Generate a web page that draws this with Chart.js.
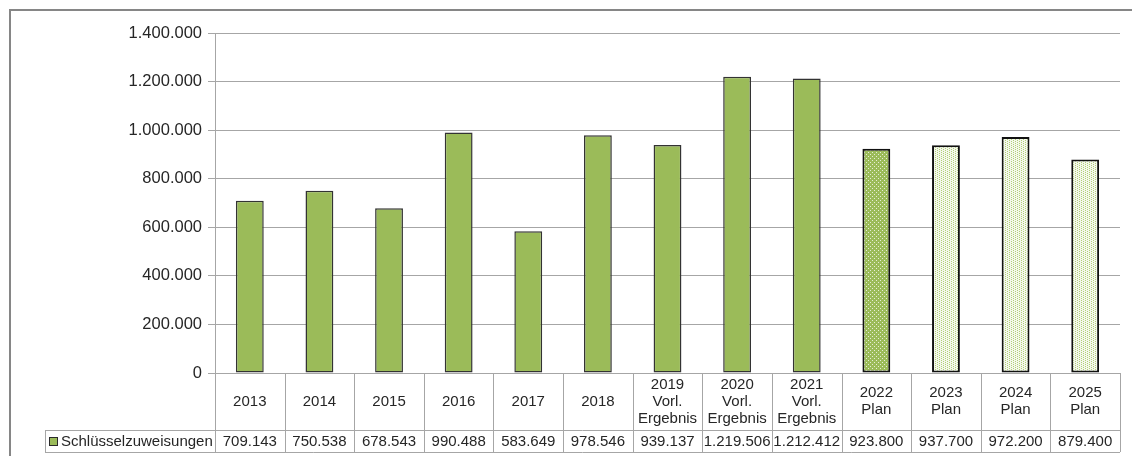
<!DOCTYPE html>
<html>
<head>
<meta charset="utf-8">
<script src="https://cdn.jsdelivr.net/npm/chart.js@4"></script>
<style>
  body { margin: 0; background: #fff; }
  #wrap { width: 1132px; height: 456px; }
</style>
</head>
<body>
<div id="wrap"><canvas id="chart" width="1132" height="456"></canvas></div>
<script>
const categories = [
  ['2013'], ['2014'], ['2015'], ['2016'], ['2017'], ['2018'],
  ['2019', 'Vorl.', 'Ergebnis'], ['2020', 'Vorl.', 'Ergebnis'], ['2021', 'Vorl.', 'Ergebnis'],
  ['2022', 'Plan'], ['2023', 'Plan'], ['2024', 'Plan'], ['2025', 'Plan']
];
const seriesName = 'Schlüsselzuweisungen';
const values = [709143, 750538, 678543, 990488, 583649, 978546, 939137, 1219506, 1212412, 923800, 937700, 972200, 879400];
const fillKind = ['solid', 'solid', 'solid', 'solid', 'solid', 'solid', 'solid', 'solid', 'solid', 'dense', 'light', 'light', 'light'];
const yTicks = [0, 200000, 400000, 600000, 800000, 1000000, 1200000, 1400000];

const GREEN = '#9bbb59';
const FAMILY = '"Liberation Sans", Arial, sans-serif';
const FONT = '15px ' + FAMILY;
const TEXT = '#262626';
const LINE = '#a6a6a6';

function fmt(n) {
  return String(n).replace(/\B(?=(\d{3})+(?!\d))/g, '.');
}

function makePattern(kind) {
  const c = document.createElement('canvas');
  c.width = 4; c.height = 4;
  const g = c.getContext('2d');
  if (kind === 'dense') {
    g.fillStyle = GREEN; g.fillRect(0, 0, 4, 4);
    g.fillStyle = '#e6eed6';
    g.fillRect(0, 0, 1, 1); g.fillRect(2, 2, 1, 1);
  } else {
    // pale base with vertical dotted green columns
    g.fillStyle = '#f4f8ec'; g.fillRect(0, 0, 4, 4);
    g.fillStyle = '#b3cf78';
    g.fillRect(1, 0, 1, 1); g.fillRect(1, 2, 1, 1);
    g.fillRect(3, 1, 1, 1); g.fillRect(3, 3, 1, 1);
  }
  return g.createPattern(c, 'repeat');
}

const fills = fillKind.map(k => k === 'solid' ? GREEN : makePattern(k));
const borders = fillKind.map(k => k === 'solid' ? '#333333' : '#111111');
const borderWidths = fillKind.map(k => k === 'solid' ? 1.5 : 2);

const frameAndTable = {
  id: 'frameAndTable',
  afterDraw(chart) {
    const ctx = chart.ctx;
    const area = chart.chartArea;
    const x = chart.scales.x;
    const n = categories.length;
    const step = area.width / n;
    const headTop = area.bottom, headBottom = 430, rowBottom = 452, legendLeft = 45;

    ctx.save();
    // outer frame
    ctx.strokeStyle = '#868686';
    ctx.lineWidth = 2;
    ctx.strokeRect(10, 10, 1140, 460);

    // table lines
    ctx.strokeStyle = LINE;
    ctx.lineWidth = 1;
    ctx.beginPath();
    ctx.moveTo(legendLeft, headBottom + 0.5); ctx.lineTo(area.right, headBottom + 0.5);
    ctx.moveTo(legendLeft, rowBottom + 0.5); ctx.lineTo(area.right, rowBottom + 0.5);
    ctx.moveTo(legendLeft + 0.5, headBottom); ctx.lineTo(legendLeft + 0.5, rowBottom);
    for (let i = 0; i <= n; i++) {
      const px = Math.round(x.getPixelForValue(i) - step / 2) + 0.5;
      ctx.moveTo(px, headTop); ctx.lineTo(px, rowBottom);
    }
    ctx.stroke();

    // header labels and values
    ctx.fillStyle = TEXT;
    ctx.font = FONT;
    ctx.textAlign = 'center';
    ctx.textBaseline = 'middle';
    const lh = 17;
    const headMid = (headTop + headBottom) / 2;
    categories.forEach((lines, i) => {
      const cx = x.getPixelForValue(i);
      const y0 = headMid - (lines.length - 1) * lh / 2;
      lines.forEach((t, j) => ctx.fillText(t, cx, y0 + j * lh));
      ctx.fillText(fmt(values[i]), cx, (headBottom + rowBottom) / 2 + 1);
    });

    // legend key
    ctx.fillStyle = GREEN;
    ctx.fillRect(49.5, 437.5, 8, 8);
    ctx.strokeStyle = '#2b2b2b';
    ctx.strokeRect(49.5, 437.5, 8, 8);
    ctx.fillStyle = TEXT;
    ctx.textAlign = 'left';
    ctx.fillText(seriesName, 61, (headBottom + rowBottom) / 2 + 1);
    ctx.restore();
  }
};

new Chart(document.getElementById('chart'), {
  type: 'bar',
  data: {
    labels: categories.map(l => l.join(' ')),
    datasets: [{
      label: seriesName,
      data: values,
      backgroundColor: fills,
      borderColor: borders,
      borderWidth: borderWidths,
      borderSkipped: false,
      barPercentage: 0.4,
      categoryPercentage: 1.0
    }]
  },
  options: {
    responsive: false,
    animation: false,
    layout: { padding: { left: 0, top: 33, right: 12, bottom: 83 } },
    plugins: {
      legend: { display: false },
      tooltip: { enabled: false }
    },
    scales: {
      x: { display: false, offset: true },
      y: {
        min: 0,
        max: 1400000,
        afterFit(scale) { scale.width = 215; },
        afterBuildTicks(scale) { scale.ticks = yTicks.map(v => ({ value: v })); },
        border: { display: true, color: LINE, width: 1 },
        grid: { color: LINE, lineWidth: 1, drawTicks: true, tickLength: 7 },
        ticks: {
          color: TEXT,
          font: { family: FAMILY, size: 16.5 },
          padding: 6,
          callback: v => fmt(v)
        }
      }
    }
  },
  plugins: [frameAndTable]
});
</script>
</body>
</html>
